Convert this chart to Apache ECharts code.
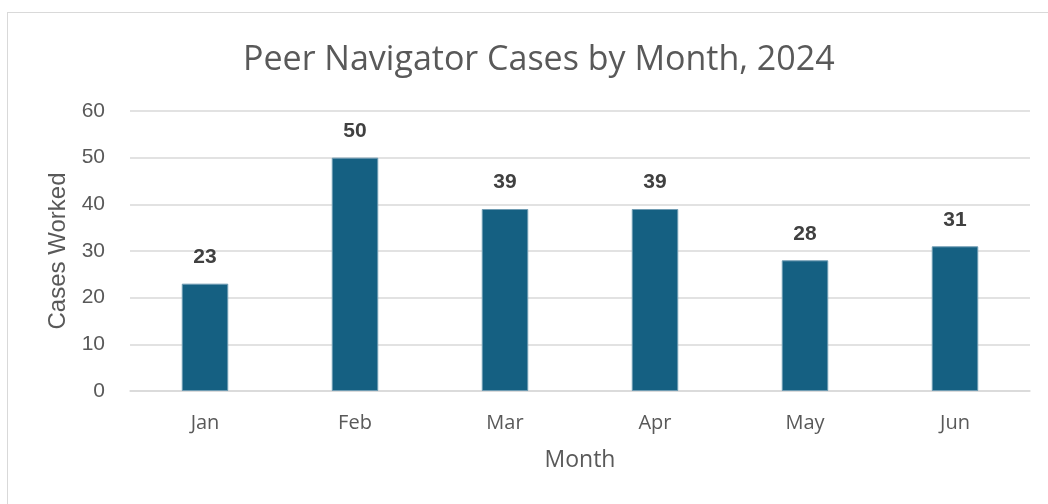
<!DOCTYPE html>
<html>
<head>
<meta charset="utf-8">
<script src="https://cdn.jsdelivr.net/npm/echarts@6/dist/echarts.min.js"></script>
<style>
  html, body { margin: 0; padding: 0; background: #fff; }
  #frame { position: absolute; left: 7px; top: 12px; width: 1100px; height: 600px;
           border: 1.5px solid #d9d9d9; box-sizing: border-box; }
  #chart { position: absolute; left: 0; top: 0; width: 1048px; height: 504px; }
</style>
</head>
<body>
<div id="frame"></div>
<div id="chart"></div>
<script>
const months = ['Jan', 'Feb', 'Mar', 'Apr', 'May', 'Jun'];
const casesWorked = [23, 50, 39, 39, 28, 31];

const chart = echarts.init(document.getElementById('chart'));
const openSans = '"Open Sans", "Noto Sans", sans-serif';
const arial = '"Liberation Sans", Arial, sans-serif';

chart.setOption({
  backgroundColor: 'transparent',
  title: {
    text: 'Peer Navigator Cases by Month, 2024',
    left: 238,
    top: 38,
    textStyle: { fontFamily: openSans, fontSize: 34, fontWeight: 'normal', color: '#595959' }
  },
  grid: { left: 130, right: 18, top: 111, bottom: 113, containLabel: false },
  xAxis: {
    type: 'category',
    data: months,
    name: 'Month',
    nameLocation: 'middle',
    nameGap: 58,
    nameTextStyle: { fontFamily: openSans, fontSize: 23, color: '#595959' },
    axisLine: { lineStyle: { color: '#d9d9d9', width: 1.5 } },
    axisTick: { show: false },
    axisLabel: { fontFamily: openSans, fontSize: 20, color: '#595959', margin: 22 }
  },
  yAxis: {
    type: 'value',
    min: 0,
    max: 60,
    interval: 10,
    name: 'Cases Worked',
    nameLocation: 'middle',
    nameGap: 60,
    nameTextStyle: { fontFamily: arial, fontSize: 24, color: '#595959' },
    axisLine: { show: false },
    axisTick: { show: false },
    axisLabel: { fontFamily: arial, fontSize: 21, color: '#595959', margin: 25 },
    splitLine: { lineStyle: { color: '#d9d9d9', width: 1.5 } }
  },
  series: [{
    type: 'bar',
    data: casesWorked,
    barWidth: '31%',
    itemStyle: { color: '#156082', borderColor: '#6f9cb3', borderWidth: 1 },
    label: {
      show: true,
      position: 'top',
      distance: 16,
      fontFamily: arial,
      fontSize: 21,
      fontWeight: 'bold',
      color: '#404040'
    }
  }]
});
</script>
</body>
</html>
